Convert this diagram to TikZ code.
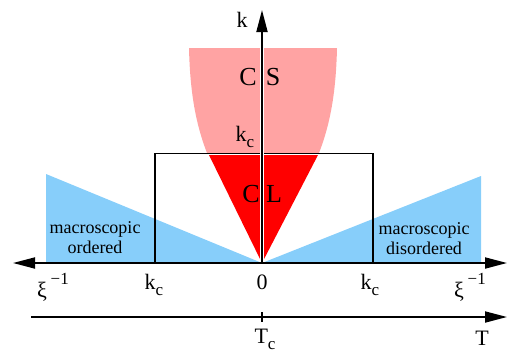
\documentclass[tikz,border=0pt]{standalone}
\usepackage{fontspec}
\setmainfont{Liberation Serif}
\usetikzlibrary{arrows.meta,calc}
\definecolor{pinkcs}{HTML}{FFA3A3}
\definecolor{redcl}{HTML}{FF0000}
\definecolor{bluem}{HTML}{87CEFA}
\newcommand{\kc}{k\raisebox{-0.28em}{\fontsize{17}{17}\selectfont c}}
\newcommand{\xiinv}{ξ\,\raisebox{0.6em}{\fontsize{17}{17}\selectfont −1}}
\begin{document}
\begin{tikzpicture}[x=1pt,y=-1pt,
  axisline/.style={line width=1.8pt, black},
  bigtip/.style={-{Triangle[length=22pt,width=11pt]}},
  lab/.style={font=\fontsize{22}{24}\selectfont, inner sep=0pt},
  biglab/.style={font=\fontsize{26}{28}\selectfont, inner sep=0pt},
  smalllab/.style={font=\fontsize{18}{20}\selectfont, align=center, inner sep=0pt},
  boxline/.style={line width=1.5pt, black}]
\useasboundingbox (0,0) rectangle (508,354);
% regions
\fill[bluem] (46,174) -- (46,262) -- (262,263) -- cycle;
\fill[bluem] (481,176) -- (481,262) -- (262,263) -- cycle;
\fill[pinkcs] (189,48) -- (337,48) .. controls (336,90) and (331,122) .. (319,153)
  -- (207,153) .. controls (195,122) and (190,90) .. (189,48) -- cycle;
\fill[redcl] (209,155) -- (318,155) -- (262,263) -- cycle;
% rectangle
\draw[boxline] (155,263) -- (155,153.5) -- (373,153.5) -- (373,263);
% axes
\coordinate (o) at (262,263);
\coordinate (ktop) at (262,10);
\coordinate (xleft) at (13,263);
\coordinate (xright) at (507,263);
\coordinate (tleft) at (31,317);
\coordinate (tright) at (507,317);
\coordinate (tc) at (262,317);
\draw[white, line width=4.5pt] (o) -- (262,48);
\draw[axisline, bigtip] (o) -- (ktop);
\draw[axisline, {Triangle[length=22pt,width=11pt]}-{Triangle[length=22pt,width=11pt]}] (xleft) -- (xright);
\draw[axisline, bigtip] (tleft) -- (tright);
\draw[line width=1.5pt] ($(tc)+(0,-5)$) -- ($(tc)+(0,5)$);
% labels
\node[lab] (klab) at (242,20) {k};
\node[biglab] (cs1) at (248,77) {C};
\node[biglab] (cs2) at (273,77) {S};
\node[lab] (kctop) at (245,137) {\kc};
\node[biglab] (cl1) at (251,194) {C};
\node[biglab] (cl2) at (274,194) {L};
\node[smalllab] (mo) at (95,238) {macroscopic\\ordered};
\node[smalllab] (md) at (424,239) {macroscopic\\disordered};
\node[lab] (xil) at (53,287) {\xiinv};
\node[lab] (kcl) at (154,285) {\kc};
\node[lab] (zero) at (262,282) {0};
\node[lab] (kcr) at (370,285) {\kc};
\node[lab] (xir) at (470,287) {\xiinv};
\node[lab] (tclab) at (265,339) {T\raisebox{-0.28em}{\fontsize{17}{17}\selectfont c}};
\node[lab] (tlab) at (482,338) {T};
\end{tikzpicture}
\end{document}
